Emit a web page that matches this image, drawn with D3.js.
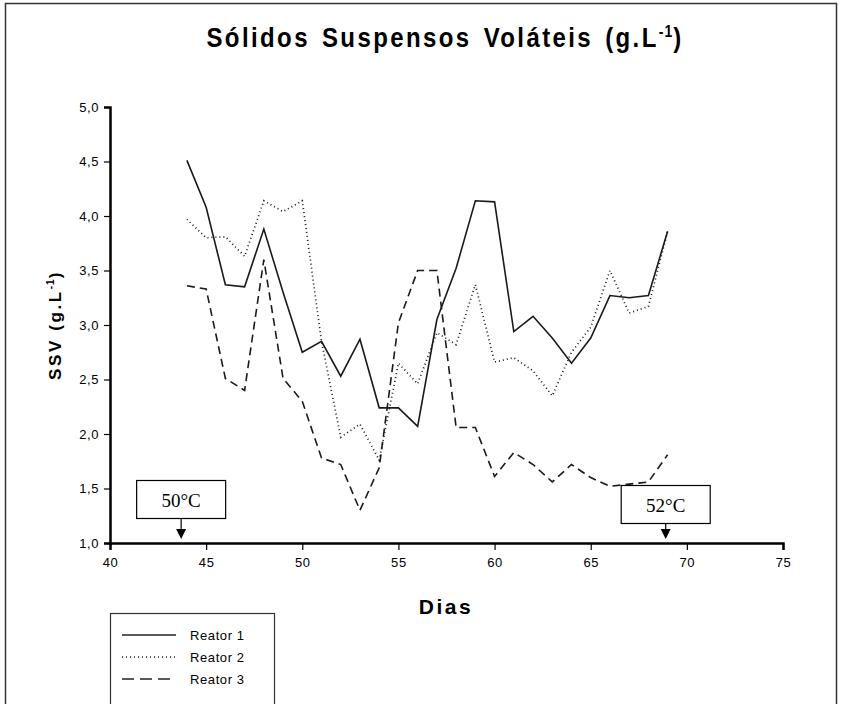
<!DOCTYPE html>
<html>
<head>
<meta charset="utf-8">
<script src="https://cdn.jsdelivr.net/npm/d3@7"></script>
<style>
  body { margin: 0; background: #fff; }
  svg { display: block; }
  text { font-family: Arial, "Liberation Sans", sans-serif; fill: #000; }
</style>
</head>
<body>
<svg id="chart" width="841" height="704"></svg>
<script>
// ---- Data ----
const days = [44,45,46,47,48,49,50,51,52,53,54,55,56,57,58,59,60,61,62,63,64,65,66,67,68,69];
const reator1 = [4.51,4.08,3.37,3.35,3.88,3.30,2.75,2.85,2.53,2.87,2.24,2.24,2.07,3.05,3.52,4.14,4.13,2.94,3.08,2.88,2.65,2.88,3.27,3.25,3.27,3.86];
const reator2 = [3.97,3.80,3.81,3.63,4.14,4.04,4.14,2.85,1.97,2.09,1.76,2.65,2.46,2.93,2.82,3.37,2.66,2.70,2.58,2.35,2.75,2.98,3.50,3.11,3.17,3.86];
const reator3 = [3.36,3.33,2.51,2.40,3.60,2.51,2.30,1.78,1.72,1.30,1.69,3.02,3.50,3.50,2.06,2.06,1.61,1.83,1.72,1.56,1.72,1.60,1.52,1.54,1.56,1.81];
const seriesNames = ["Reator 1", "Reator 2", "Reator 3"];
const xTicks = [40,45,50,55,60,65,70,75];
const yTicks = [1.0,1.5,2.0,2.5,3.0,3.5,4.0,4.5,5.0];
const annotationDays = [43.7, 68.9];
const annotationLabels = ["50°C", "52°C"];

const series = [
  { name: seriesNames[0], values: reator1, dash: null },
  { name: seriesNames[1], values: reator2, dash: "1,3" },
  { name: seriesNames[2], values: reator3, dash: "8,5" }
];

const svg = d3.select("#chart");

// outer frame
svg.append("rect").attr("x", 5.5).attr("y", 3.5).attr("width", 831).attr("height", 720)
  .attr("fill", "none").attr("stroke", "#333").attr("stroke-width", 1.5);

const x = d3.scaleLinear().domain([40, 75]).range([110, 783]);
const y = d3.scaleLinear().domain([1, 5]).range([543, 107]);

// title
const title = svg.append("text").attr("transform", "translate(445,47) scale(1,1.15)")
  .attr("text-anchor", "middle").attr("font-size", 24).attr("font-weight", "bold")
  .attr("letter-spacing", 2.4).attr("word-spacing", 3);
title.append("tspan").text("Sólidos Suspensos Voláteis (g.L");
title.append("tspan").attr("dy", -9).attr("font-size", 14).attr("letter-spacing", 1).text("-1");
title.append("tspan").attr("dy", 9).text(")");

// y axis
const fmt = d => d.toFixed(1).replace(".", ",");
const yAxis = svg.append("g").attr("transform", "translate(110,0)")
  .call(d3.axisLeft(y).tickValues(yTicks).tickFormat(fmt).tickSize(6).tickPadding(5));
yAxis.select(".domain").attr("stroke", "#000").attr("stroke-width", 2.5);
yAxis.selectAll(".tick line").attr("stroke", "#000").attr("stroke-width", 1.2);
yAxis.selectAll("text").attr("font-size", 13).attr("letter-spacing", 0.6)
  .attr("font-family", "Arial, 'Liberation Sans', sans-serif");

// x axis
const xAxis = svg.append("g").attr("transform", "translate(0,543)")
  .call(d3.axisBottom(x).tickValues(xTicks).tickFormat(d3.format("d")).tickSize(7).tickPadding(8));
xAxis.select(".domain").attr("stroke", "#000").attr("stroke-width", 2.5);
xAxis.selectAll(".tick line").attr("stroke", "#000").attr("stroke-width", 1.2);
xAxis.selectAll("text").attr("font-size", 13).attr("letter-spacing", 0.6)
  .attr("font-family", "Arial, 'Liberation Sans', sans-serif");

// axis labels
const yl = svg.append("text").attr("transform", "translate(61,325) rotate(-90)")
  .attr("text-anchor", "middle").attr("font-size", 17).attr("font-weight", "bold")
  .attr("letter-spacing", 2.6);
yl.append("tspan").text("SSV (g.L");
yl.append("tspan").attr("dy", -7).attr("font-size", 10).attr("letter-spacing", 1).text("-1");
yl.append("tspan").attr("dy", 7).text(")");

svg.append("text").attr("x", 446).attr("y", 614).attr("text-anchor", "middle")
  .attr("font-size", 21).attr("font-weight", "bold").attr("letter-spacing", 2.5).text("Dias");

// lines
const line = d3.line().x((d, i) => x(days[i])).y(d => y(d));
series.forEach(s => {
  svg.append("path").datum(s.values)
    .attr("d", line)
    .attr("fill", "none")
    .attr("stroke", "#1a1a1a")
    .attr("stroke-width", s.dash === "1,3" ? 1.7 : 1.6)
    .attr("stroke-dasharray", s.dash);
});

// annotations
annotationDays.forEach((d, i) => {
  const cx = x(d);
  const g = svg.append("g");
  const by = i === 0 ? 480.5 : 485.5;
  g.append("rect").attr("x", cx - 44.5).attr("y", by)
    .attr("width", 89).attr("height", 38)
    .attr("fill", "#fff").attr("stroke", "#000").attr("stroke-width", 1.2);
  g.append("line").attr("x1", cx).attr("x2", cx).attr("y1", by + 38).attr("y2", 530)
    .attr("stroke", "#000").attr("stroke-width", 1.2);
  g.append("path").attr("d", `M${cx - 5},${529} L${cx + 5},${529} L${cx},${539} Z`).attr("fill", "#000");
  g.append("text").attr("x", cx).attr("y", by + 26)
    .attr("text-anchor", "middle").attr("font-size", 19)
    .style("font-family", "'Liberation Serif', 'Times New Roman', serif")
    .text(annotationLabels[i]);
});

// legend
const lg = svg.append("g");
lg.append("rect").attr("x", 110.5).attr("y", 613.5).attr("width", 164).attr("height", 120)
  .attr("fill", "#fff").attr("stroke", "#333").attr("stroke-width", 1.2);
series.forEach((s, i) => {
  const ly = 635 + i * 22;
  lg.append("line").attr("x1", 122).attr("x2", 176).attr("y1", ly).attr("y2", ly)
    .attr("stroke", "#222").attr("stroke-width", 1.3)
    .attr("stroke-dasharray", s.dash === "1,3" ? "1,3" : (s.dash ? "12,6" : null));
  lg.append("text").attr("x", 190).attr("y", ly + 5).attr("font-size", 13)
    .attr("letter-spacing", 0.6).text(s.name);
});
</script>
</body>
</html>
